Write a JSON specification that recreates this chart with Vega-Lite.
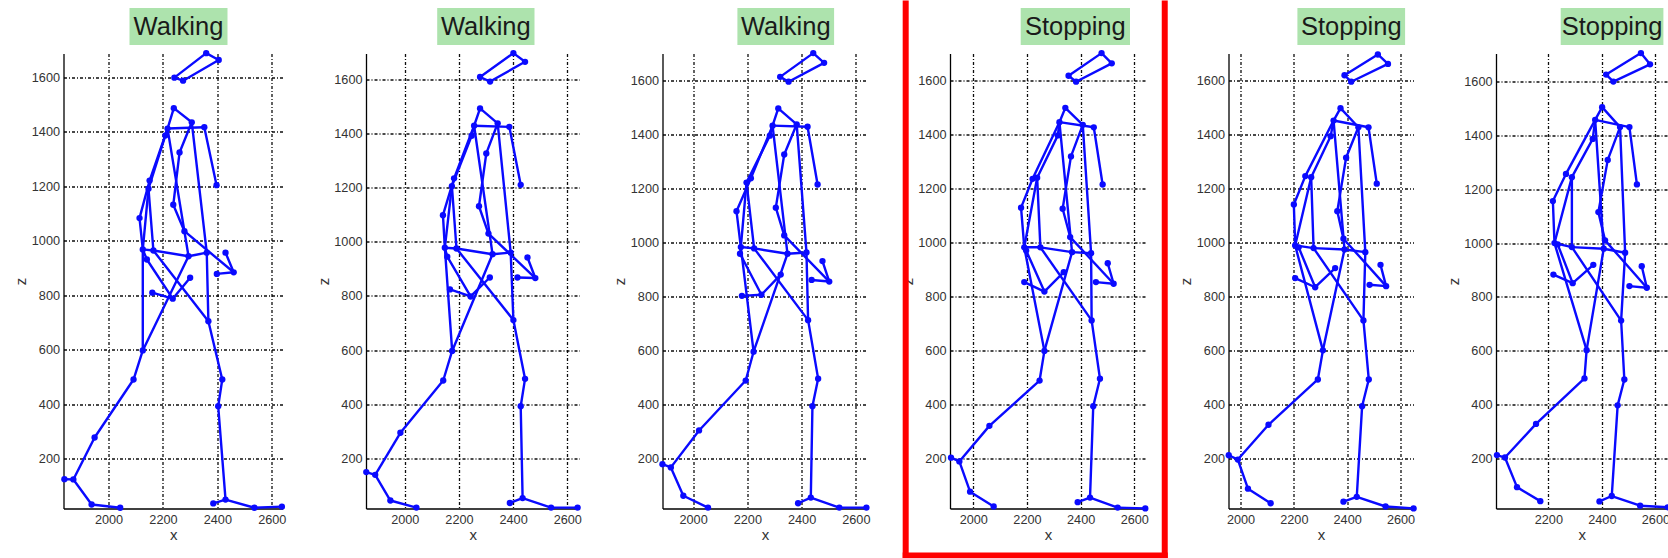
{
  "$schema": "https://vega.github.io/schema/vega-lite/v6.json",
  "background": "white",
  "padding": {"left": 13.5, "top": 0, "right": 0, "bottom": 0},
  "autosize": {"type": "pad"},
  "config": {
    "view": {"stroke": null},
    "font": "Liberation Sans",
    "numberFormat": "d",
    "axis": {
      "domainColor": "#000000", "domainWidth": 1.3,
      "ticks": false, "tickSize": 0,
      "grid": true, "gridColor": "#000000", "gridWidth": 1.3, "gridDash": [3, 2, 1, 2], "gridOpacity": 0.95,
      "labelFont": "Liberation Sans", "labelFontSize": 12.7, "labelColor": "#333333", "labelPadding": 4,
      "titleFont": "Liberation Sans", "titleFontSize": 15, "titleFontWeight": "normal", "titleColor": "#333333"
    },
    "axisX": {"labelPadding": 5, "titlePadding": 1},
    "axisY": {"titleX": -43, "titleY": 227.5, "titleBaseline": "middle"}
  },
  "datasets": {
    "bones": [
      {"a": "hd1", "b": "hd2"}, {"a": "hd2", "b": "hd3"}, {"a": "hd3", "b": "hd4"}, {"a": "hd4", "b": "hd1"},
      {"a": "neck", "b": "shL"}, {"a": "neck", "b": "shM"}, {"a": "shL", "b": "shR"}, {"a": "shL", "b": "hipC"},
      {"a": "shL", "b": "elA"}, {"a": "shL", "b": "shD"}, {"a": "shD", "b": "elB"},
      {"a": "shM", "b": "fa1"}, {"a": "fa1", "b": "fa2"}, {"a": "fa2", "b": "fa3"}, {"a": "fa3", "b": "fwr"},
      {"a": "fwr", "b": "ftip"}, {"a": "fwr", "b": "fthm"},
      {"a": "shR", "b": "rhand"}, {"a": "shM", "b": "hipR"},
      {"a": "elA", "b": "wrA"}, {"a": "wrA", "b": "hipL"}, {"a": "elB", "b": "hipL2"}, {"a": "elB", "b": "hipL"},
      {"a": "hipL", "b": "hipL2"}, {"a": "hipL2", "b": "hipC"}, {"a": "hipC", "b": "hipR"},
      {"a": "hipL", "b": "bwr"}, {"a": "bwr", "b": "bhand"}, {"a": "bhand", "b": "btip"}, {"a": "bhand", "b": "bthm"},
      {"a": "hipL", "b": "lth"}, {"a": "hipC", "b": "lth"}, {"a": "hipR", "b": "rth"}, {"a": "hipL2", "b": "rth"},
      {"a": "lth", "b": "lkn"}, {"a": "lkn", "b": "lsh"}, {"a": "lsh", "b": "lan"}, {"a": "lan", "b": "lhe"},
      {"a": "lan", "b": "lmt"}, {"a": "lmt", "b": "lto"},
      {"a": "rth", "b": "rkn"}, {"a": "rkn", "b": "rsh"}, {"a": "rsh", "b": "ran"}, {"a": "ran", "b": "rhe"},
      {"a": "ran", "b": "rmt"}, {"a": "rmt", "b": "rto"}
    ],
    "p1": [
      {"j": "hd1", "x": 2242, "z": 1599}, {"j": "hd2", "x": 2359, "z": 1689}, {"j": "hd3", "x": 2405, "z": 1664}, {"j": "hd4", "x": 2274, "z": 1588},
      {"j": "neck", "x": 2240, "z": 1487}, {"j": "shL", "x": 2217, "z": 1412}, {"j": "shD", "x": 2209, "z": 1387},
      {"j": "shM", "x": 2306, "z": 1435}, {"j": "shR", "x": 2352, "z": 1417},
      {"j": "fa1", "x": 2261, "z": 1324}, {"j": "rhand", "x": 2397, "z": 1204},
      {"j": "elA", "x": 2151, "z": 1221}, {"j": "elB", "x": 2147, "z": 1191}, {"j": "wrA", "x": 2114, "z": 1083},
      {"j": "fa2", "x": 2238, "z": 1132}, {"j": "fa3", "x": 2279, "z": 1035},
      {"j": "hipL", "x": 2126, "z": 968}, {"j": "hipL2", "x": 2165, "z": 964}, {"j": "hipC", "x": 2294, "z": 943}, {"j": "hipR", "x": 2361, "z": 956},
      {"j": "ftip", "x": 2430, "z": 956}, {"j": "fwr", "x": 2460, "z": 884}, {"j": "fthm", "x": 2398, "z": 878},
      {"j": "bwr", "x": 2141, "z": 931}, {"j": "bthm", "x": 2300, "z": 864}, {"j": "btip", "x": 2161, "z": 809}, {"j": "bhand", "x": 2236, "z": 787},
      {"j": "rth", "x": 2367, "z": 704}, {"j": "lth", "x": 2126, "z": 597},
      {"j": "lkn", "x": 2092, "z": 490}, {"j": "lsh", "x": 1949, "z": 277}, {"j": "lan", "x": 1871, "z": 123}, {"j": "lhe", "x": 1838, "z": 124},
      {"j": "lmt", "x": 1938, "z": 31}, {"j": "lto", "x": 2043, "z": 19},
      {"j": "rkn", "x": 2418, "z": 490}, {"j": "rsh", "x": 2403, "z": 392}, {"j": "ran", "x": 2430, "z": 49}, {"j": "rhe", "x": 2385, "z": 35},
      {"j": "rmt", "x": 2536, "z": 19}, {"j": "rto", "x": 2637, "z": 23}
    ],
    "p2": [
      {"j": "hd1", "x": 2278, "z": 1608}, {"j": "hd2", "x": 2401, "z": 1696}, {"j": "hd3", "x": 2444, "z": 1664}, {"j": "hd4", "x": 2315, "z": 1591},
      {"j": "neck", "x": 2278, "z": 1492}, {"j": "shL", "x": 2256, "z": 1428}, {"j": "shD", "x": 2247, "z": 1391},
      {"j": "shM", "x": 2343, "z": 1437}, {"j": "shR", "x": 2386, "z": 1424},
      {"j": "fa1", "x": 2301, "z": 1326}, {"j": "rhand", "x": 2428, "z": 1210},
      {"j": "elA", "x": 2182, "z": 1234}, {"j": "elB", "x": 2174, "z": 1205}, {"j": "wrA", "x": 2141, "z": 1098},
      {"j": "fa2", "x": 2274, "z": 1131}, {"j": "fa3", "x": 2309, "z": 1030},
      {"j": "hipL", "x": 2148, "z": 978}, {"j": "hipL2", "x": 2191, "z": 975}, {"j": "hipC", "x": 2324, "z": 954}, {"j": "hipR", "x": 2391, "z": 960},
      {"j": "ftip", "x": 2453, "z": 942}, {"j": "fwr", "x": 2482, "z": 866}, {"j": "fthm", "x": 2416, "z": 868},
      {"j": "bwr", "x": 2157, "z": 945}, {"j": "bthm", "x": 2314, "z": 868}, {"j": "btip", "x": 2167, "z": 824}, {"j": "bhand", "x": 2243, "z": 798},
      {"j": "rth", "x": 2401, "z": 711}, {"j": "lth", "x": 2175, "z": 597},
      {"j": "lkn", "x": 2142, "z": 488}, {"j": "lsh", "x": 1984, "z": 295}, {"j": "lan", "x": 1891, "z": 140}, {"j": "lhe", "x": 1858, "z": 150},
      {"j": "lmt", "x": 1947, "z": 45}, {"j": "lto", "x": 2043, "z": 19},
      {"j": "rkn", "x": 2444, "z": 494}, {"j": "rsh", "x": 2428, "z": 393}, {"j": "ran", "x": 2435, "z": 54}, {"j": "rhe", "x": 2388, "z": 36},
      {"j": "rmt", "x": 2540, "z": 19}, {"j": "rto", "x": 2638, "z": 19}
    ],
    "p3": [
      {"j": "hd1", "x": 2321, "z": 1615}, {"j": "hd2", "x": 2443, "z": 1703}, {"j": "hd3", "x": 2483, "z": 1667}, {"j": "hd4", "x": 2352, "z": 1597},
      {"j": "neck", "x": 2314, "z": 1498}, {"j": "shL", "x": 2293, "z": 1434}, {"j": "shD", "x": 2283, "z": 1397},
      {"j": "shM", "x": 2382, "z": 1439}, {"j": "shR", "x": 2422, "z": 1430},
      {"j": "fa1", "x": 2336, "z": 1327}, {"j": "rhand", "x": 2459, "z": 1216},
      {"j": "elA", "x": 2213, "z": 1239}, {"j": "elB", "x": 2197, "z": 1223}, {"j": "wrA", "x": 2160, "z": 1117},
      {"j": "fa2", "x": 2305, "z": 1130}, {"j": "fa3", "x": 2336, "z": 1027},
      {"j": "hipL", "x": 2176, "z": 984}, {"j": "hipL2", "x": 2225, "z": 979}, {"j": "hipC", "x": 2348, "z": 959}, {"j": "hipR", "x": 2418, "z": 964},
      {"j": "ftip", "x": 2477, "z": 932}, {"j": "fwr", "x": 2502, "z": 856}, {"j": "fthm", "x": 2437, "z": 862},
      {"j": "bwr", "x": 2173, "z": 959}, {"j": "bthm", "x": 2323, "z": 882}, {"j": "btip", "x": 2180, "z": 803}, {"j": "bhand", "x": 2252, "z": 807},
      {"j": "rth", "x": 2424, "z": 713}, {"j": "lth", "x": 2223, "z": 596},
      {"j": "lkn", "x": 2194, "z": 489}, {"j": "lsh", "x": 2022, "z": 304}, {"j": "lan", "x": 1918, "z": 167}, {"j": "lhe", "x": 1887, "z": 179},
      {"j": "lmt", "x": 1964, "z": 62}, {"j": "lto", "x": 2055, "z": 18},
      {"j": "rkn", "x": 2461, "z": 496}, {"j": "rsh", "x": 2440, "z": 394}, {"j": "ran", "x": 2434, "z": 55}, {"j": "rhe", "x": 2387, "z": 34},
      {"j": "rmt", "x": 2539, "z": 18}, {"j": "rto", "x": 2639, "z": 18}
    ],
    "p4": [
      {"j": "hd1", "x": 2355, "z": 1619}, {"j": "hd2", "x": 2478, "z": 1703}, {"j": "hd3", "x": 2516, "z": 1665}, {"j": "hd4", "x": 2383, "z": 1597},
      {"j": "neck", "x": 2343, "z": 1500}, {"j": "shL", "x": 2321, "z": 1447}, {"j": "shD", "x": 2315, "z": 1398},
      {"j": "shM", "x": 2408, "z": 1437}, {"j": "shR", "x": 2449, "z": 1428},
      {"j": "fa1", "x": 2364, "z": 1320}, {"j": "rhand", "x": 2482, "z": 1216},
      {"j": "elA", "x": 2221, "z": 1237}, {"j": "elB", "x": 2238, "z": 1241}, {"j": "wrA", "x": 2178, "z": 1130},
      {"j": "fa2", "x": 2333, "z": 1126}, {"j": "fa3", "x": 2361, "z": 1021},
      {"j": "hipL", "x": 2190, "z": 983}, {"j": "hipL2", "x": 2250, "z": 983}, {"j": "hipC", "x": 2368, "z": 965}, {"j": "hipR", "x": 2439, "z": 961},
      {"j": "ftip", "x": 2501, "z": 924}, {"j": "fwr", "x": 2523, "z": 848}, {"j": "fthm", "x": 2457, "z": 854},
      {"j": "bwr", "x": 2197, "z": 971}, {"j": "bthm", "x": 2337, "z": 891}, {"j": "btip", "x": 2190, "z": 854}, {"j": "bhand", "x": 2265, "z": 819},
      {"j": "rth", "x": 2441, "z": 712}, {"j": "lth", "x": 2265, "z": 599},
      {"j": "lkn", "x": 2247, "z": 489}, {"j": "lsh", "x": 2060, "z": 321}, {"j": "lan", "x": 1948, "z": 189}, {"j": "lhe", "x": 1917, "z": 203},
      {"j": "lmt", "x": 1988, "z": 77}, {"j": "lto", "x": 2076, "z": 22},
      {"j": "rkn", "x": 2472, "z": 496}, {"j": "rsh", "x": 2447, "z": 394}, {"j": "ran", "x": 2435, "z": 55}, {"j": "rhe", "x": 2389, "z": 38},
      {"j": "rmt", "x": 2538, "z": 18}, {"j": "rto", "x": 2641, "z": 15}
    ],
    "p5": [
      {"j": "hd1", "x": 2390, "z": 1621}, {"j": "hd2", "x": 2515, "z": 1698}, {"j": "hd3", "x": 2553, "z": 1663}, {"j": "hd4", "x": 2415, "z": 1597},
      {"j": "neck", "x": 2375, "z": 1499}, {"j": "shL", "x": 2349, "z": 1453}, {"j": "shD", "x": 2338, "z": 1395},
      {"j": "shM", "x": 2442, "z": 1428}, {"j": "shR", "x": 2480, "z": 1428},
      {"j": "fa1", "x": 2396, "z": 1315}, {"j": "rhand", "x": 2511, "z": 1219},
      {"j": "elA", "x": 2243, "z": 1247}, {"j": "elB", "x": 2265, "z": 1243}, {"j": "wrA", "x": 2200, "z": 1142},
      {"j": "fa2", "x": 2363, "z": 1117}, {"j": "fa3", "x": 2386, "z": 1015},
      {"j": "hipL", "x": 2205, "z": 990}, {"j": "hipL2", "x": 2274, "z": 980}, {"j": "hipC", "x": 2390, "z": 975}, {"j": "hipR", "x": 2468, "z": 965},
      {"j": "ftip", "x": 2525, "z": 918}, {"j": "fwr", "x": 2546, "z": 839}, {"j": "fthm", "x": 2484, "z": 844},
      {"j": "bwr", "x": 2218, "z": 983}, {"j": "bthm", "x": 2355, "z": 906}, {"j": "btip", "x": 2205, "z": 869}, {"j": "bhand", "x": 2280, "z": 835},
      {"j": "rth", "x": 2461, "z": 712}, {"j": "lth", "x": 2309, "z": 601},
      {"j": "lkn", "x": 2290, "z": 493}, {"j": "lsh", "x": 2105, "z": 325}, {"j": "lan", "x": 1990, "z": 196}, {"j": "lhe", "x": 1956, "z": 212},
      {"j": "lmt", "x": 2028, "z": 88}, {"j": "lto", "x": 2113, "z": 34},
      {"j": "rkn", "x": 2481, "z": 493}, {"j": "rsh", "x": 2456, "z": 394}, {"j": "ran", "x": 2436, "z": 58}, {"j": "rhe", "x": 2386, "z": 40},
      {"j": "rmt", "x": 2544, "z": 22}, {"j": "rto", "x": 2649, "z": 15}
    ],
    "p6": [
      {"j": "hd1", "x": 2416, "z": 1626}, {"j": "hd2", "x": 2546, "z": 1706}, {"j": "hd3", "x": 2580, "z": 1664}, {"j": "hd4", "x": 2443, "z": 1600},
      {"j": "neck", "x": 2401, "z": 1505}, {"j": "shL", "x": 2375, "z": 1458}, {"j": "shD", "x": 2366, "z": 1387},
      {"j": "shM", "x": 2468, "z": 1431}, {"j": "shR", "x": 2503, "z": 1431},
      {"j": "fa1", "x": 2422, "z": 1309}, {"j": "rhand", "x": 2531, "z": 1218},
      {"j": "elA", "x": 2266, "z": 1257}, {"j": "elB", "x": 2288, "z": 1245}, {"j": "wrA", "x": 2217, "z": 1156},
      {"j": "fa2", "x": 2387, "z": 1115}, {"j": "fa3", "x": 2412, "z": 1010},
      {"j": "hipL", "x": 2223, "z": 1000}, {"j": "hipL2", "x": 2288, "z": 985}, {"j": "hipC", "x": 2407, "z": 979}, {"j": "hipR", "x": 2487, "z": 964},
      {"j": "ftip", "x": 2549, "z": 914}, {"j": "fwr", "x": 2568, "z": 834}, {"j": "fthm", "x": 2503, "z": 840},
      {"j": "bwr", "x": 2235, "z": 995}, {"j": "bthm", "x": 2368, "z": 919}, {"j": "btip", "x": 2219, "z": 883}, {"j": "bhand", "x": 2291, "z": 851},
      {"j": "rth", "x": 2472, "z": 712}, {"j": "lth", "x": 2343, "z": 602},
      {"j": "lkn", "x": 2335, "z": 497}, {"j": "lsh", "x": 2154, "z": 328}, {"j": "lan", "x": 2038, "z": 203}, {"j": "lhe", "x": 2008, "z": 212},
      {"j": "lmt", "x": 2083, "z": 93}, {"j": "lto", "x": 2170, "z": 41},
      {"j": "rkn", "x": 2484, "z": 493}, {"j": "rsh", "x": 2459, "z": 397}, {"j": "ran", "x": 2437, "z": 60}, {"j": "rhe", "x": 2391, "z": 40},
      {"j": "rmt", "x": 2543, "z": 24}, {"j": "rto", "x": 2646, "z": 18}
    ]
  },
  "columns": 6,
  "align": "each",
  "bounds": "flush",
  "spacing": {"row": 8.5, "column": 82.5},
  "concat": [
    {
      "width": 164, "height": 37,
      "data": {"values": [{"label": "Walking"}]},
      "layer": [
        {"mark": {"type": "bar", "color": "#ade3ad"},
         "encoding": {"x": {"field": "label", "type": "nominal", "axis": null, "scale": {"paddingInner": 0, "paddingOuter": 0.3367, "align": 1}}}},
        {"mark": {"type": "text", "fontSize": 25.5, "font": "Liberation Sans", "color": "#1a1a1a"},
         "encoding": {"x": {"field": "label", "type": "nominal"}, "text": {"field": "label"}}}
      ]
    },
    {
      "width": 168.5, "height": 37,
      "data": {"values": [{"label": "Walking"}]},
      "layer": [
        {"mark": {"type": "bar", "color": "#ade3ad"},
         "encoding": {"x": {"field": "label", "type": "nominal", "axis": null, "scale": {"paddingInner": 0, "paddingOuter": 0.3659, "align": 1}}}},
        {"mark": {"type": "text", "fontSize": 25.5, "font": "Liberation Sans", "color": "#1a1a1a"},
         "encoding": {"x": {"field": "label", "type": "nominal"}, "text": {"field": "label"}}}
      ]
    },
    {
      "width": 171.6, "height": 37,
      "data": {"values": [{"label": "Walking"}]},
      "layer": [
        {"mark": {"type": "bar", "color": "#ade3ad"},
         "encoding": {"x": {"field": "label", "type": "nominal", "axis": null, "scale": {"paddingInner": 0, "paddingOuter": 0.3873, "align": 1}}}},
        {"mark": {"type": "text", "fontSize": 25.5, "font": "Liberation Sans", "color": "#1a1a1a"},
         "encoding": {"x": {"field": "label", "type": "nominal"}, "text": {"field": "label"}}}
      ]
    },
    {
      "width": 180, "height": 37,
      "data": {"values": [{"label": "Stopping"}]},
      "layer": [
        {"mark": {"type": "bar", "color": "#ade3ad"},
         "encoding": {"x": {"field": "label", "type": "nominal", "axis": null, "scale": {"paddingInner": 0, "paddingOuter": 0.3234, "align": 1}}}},
        {"mark": {"type": "text", "fontSize": 25.5, "font": "Liberation Sans", "color": "#1a1a1a"},
         "encoding": {"x": {"field": "label", "type": "nominal"}, "text": {"field": "label"}}}
      ]
    },
    {
      "width": 176.6, "height": 37,
      "data": {"values": [{"label": "Stopping"}]},
      "layer": [
        {"mark": {"type": "bar", "color": "#ade3ad"},
         "encoding": {"x": {"field": "label", "type": "nominal", "axis": null, "scale": {"paddingInner": 0, "paddingOuter": 0.3199, "align": 1}}}},
        {"mark": {"type": "text", "fontSize": 25.5, "font": "Liberation Sans", "color": "#1a1a1a"},
         "encoding": {"x": {"field": "label", "type": "nominal"}, "text": {"field": "label"}}}
      ]
    },
    {
      "width": 167.4, "height": 37,
      "data": {"values": [{"label": "Stopping"}]},
      "layer": [
        {"mark": {"type": "bar", "color": "#ade3ad"},
         "encoding": {"x": {"field": "label", "type": "nominal", "axis": null, "scale": {"paddingInner": 0, "paddingOuter": 0.315, "align": 1}}}},
        {"mark": {"type": "text", "fontSize": 25.5, "font": "Liberation Sans", "color": "#1a1a1a"},
         "encoding": {"x": {"field": "label", "type": "nominal"}, "text": {"field": "label"}}}
      ]
    },
    {
      "width": 219.3, "height": 455,
      "layer": [
        {"data": {"name": "bones"},
         "transform": [
           {"lookup": "a", "from": {"data": {"name": "p1"}, "key": "j", "fields": ["x", "z"]}, "as": ["xa", "za"]},
           {"lookup": "b", "from": {"data": {"name": "p1"}, "key": "j", "fields": ["x", "z"]}, "as": ["xb", "zb"]}
         ],
         "mark": {"type": "rule", "color": "#0a0aff", "strokeWidth": 2.4, "strokeCap": "round"},
         "encoding": {
           "x": {"field": "xa", "type": "quantitative", "scale": {"domain": [1834.7, 2640.4], "nice": false, "zero": false}, "axis": {"values": [2000, 2200, 2400, 2600], "title": "x", "format": "d"}},
           "y": {"field": "za", "type": "quantitative", "scale": {"domain": [16.2, 1687.8], "nice": false, "zero": false}, "axis": {"values": [200, 400, 600, 800, 1000, 1200, 1400, 1600], "title": "z", "format": "d"}},
           "x2": {"field": "xb"}, "y2": {"field": "zb"}
         }},
        {"data": {"name": "p1"},
         "mark": {"type": "circle", "size": 40, "color": "#0a0aff", "opacity": 1},
         "encoding": {"x": {"field": "x", "type": "quantitative"}, "y": {"field": "z", "type": "quantitative"}}}
      ]
    },
    {
      "width": 213.5, "height": 455,
      "layer": [
        {"data": {"name": "bones"},
         "transform": [
           {"lookup": "a", "from": {"data": {"name": "p2"}, "key": "j", "fields": ["x", "z"]}, "as": ["xa", "za"]},
           {"lookup": "b", "from": {"data": {"name": "p2"}, "key": "j", "fields": ["x", "z"]}, "as": ["xb", "zb"]}
         ],
         "mark": {"type": "rule", "color": "#0a0aff", "strokeWidth": 2.4, "strokeCap": "round"},
         "encoding": {
           "x": {"field": "xa", "type": "quantitative", "scale": {"domain": [1857, 2645], "nice": false, "zero": false}, "axis": {"values": [2000, 2200, 2400, 2600], "title": "x", "format": "d"}},
           "y": {"field": "za", "type": "quantitative", "scale": {"domain": [15.6, 1694.6], "nice": false, "zero": false}, "axis": {"values": [200, 400, 600, 800, 1000, 1200, 1400, 1600], "title": "z", "format": "d"}},
           "x2": {"field": "xb"}, "y2": {"field": "zb"}
         }},
        {"data": {"name": "p2"},
         "mark": {"type": "circle", "size": 40, "color": "#0a0aff", "opacity": 1},
         "encoding": {"x": {"field": "x", "type": "quantitative"}, "y": {"field": "z", "type": "quantitative"}}}
      ]
    },
    {
      "width": 205, "height": 455,
      "layer": [
        {"data": {"name": "bones"},
         "transform": [
           {"lookup": "a", "from": {"data": {"name": "p3"}, "key": "j", "fields": ["x", "z"]}, "as": ["xa", "za"]},
           {"lookup": "b", "from": {"data": {"name": "p3"}, "key": "j", "fields": ["x", "z"]}, "as": ["xb", "zb"]}
         ],
         "mark": {"type": "rule", "color": "#0a0aff", "strokeWidth": 2.4, "strokeCap": "round"},
         "encoding": {
           "x": {"field": "xa", "type": "quantitative", "scale": {"domain": [1887.2, 2643], "nice": false, "zero": false}, "axis": {"values": [2000, 2200, 2400, 2600], "title": "x", "format": "d"}},
           "y": {"field": "za", "type": "quantitative", "scale": {"domain": [14.6, 1701.6], "nice": false, "zero": false}, "axis": {"values": [200, 400, 600, 800, 1000, 1200, 1400, 1600], "title": "z", "format": "d"}},
           "x2": {"field": "xb"}, "y2": {"field": "zb"}
         }},
        {"data": {"name": "p3"},
         "mark": {"type": "circle", "size": 40, "color": "#0a0aff", "opacity": 1},
         "encoding": {"x": {"field": "x", "type": "quantitative"}, "y": {"field": "z", "type": "quantitative"}}}
      ]
    },
    {
      "width": 196, "height": 455,
      "layer": [
        {"data": {"name": "bones"},
         "transform": [
           {"lookup": "a", "from": {"data": {"name": "p4"}, "key": "j", "fields": ["x", "z"]}, "as": ["xa", "za"]},
           {"lookup": "b", "from": {"data": {"name": "p4"}, "key": "j", "fields": ["x", "z"]}, "as": ["xb", "zb"]}
         ],
         "mark": {"type": "rule", "color": "#0a0aff", "strokeWidth": 2.4, "strokeCap": "round"},
         "encoding": {
           "x": {"field": "xa", "type": "quantitative", "scale": {"domain": [1913.2, 2643.6], "nice": false, "zero": false}, "axis": {"values": [2000, 2200, 2400, 2600], "title": "x", "format": "d"}},
           "y": {"field": "za", "type": "quantitative", "scale": {"domain": [14.6, 1701.6], "nice": false, "zero": false}, "axis": {"values": [200, 400, 600, 800, 1000, 1200, 1400, 1600], "title": "z", "format": "d"}},
           "x2": {"field": "xb"}, "y2": {"field": "zb"}
         }},
        {"data": {"name": "p4"},
         "mark": {"type": "circle", "size": 40, "color": "#0a0aff", "opacity": 1},
         "encoding": {"x": {"field": "x", "type": "quantitative"}, "y": {"field": "z", "type": "quantitative"}}},
        {"data": {"values": [{}]},
         "mark": {"type": "rect", "color": "#ff0000"},
         "encoding": {"x": {"datum": 1736.9}, "x2": {"datum": 1759.3}, "y": {"datum": 1898.1}, "y2": {"datum": -170.8}}},
        {"data": {"values": [{}]},
         "mark": {"type": "rect", "color": "#ff0000"},
         "encoding": {"x": {"datum": 2702.3}, "x2": {"datum": 2724.6}, "y": {"datum": 1898.1}, "y2": {"datum": -170.8}}},
        {"data": {"values": [{}]},
         "mark": {"type": "rect", "color": "#ff0000"},
         "encoding": {"x": {"datum": 1736.9}, "x2": {"datum": 2724.6}, "y": {"datum": -148.6}, "y2": {"datum": -170.8}}}
      ]
    },
    {
      "width": 185, "height": 455,
      "layer": [
        {"data": {"name": "bones"},
         "transform": [
           {"lookup": "a", "from": {"data": {"name": "p5"}, "key": "j", "fields": ["x", "z"]}, "as": ["xa", "za"]},
           {"lookup": "b", "from": {"data": {"name": "p5"}, "key": "j", "fields": ["x", "z"]}, "as": ["xb", "zb"]}
         ],
         "mark": {"type": "rule", "color": "#0a0aff", "strokeWidth": 2.4, "strokeCap": "round"},
         "encoding": {
           "x": {"field": "xa", "type": "quantitative", "scale": {"domain": [1955, 2648.7], "nice": false, "zero": false}, "axis": {"values": [2000, 2200, 2400, 2600], "title": "x", "format": "d"}},
           "y": {"field": "za", "type": "quantitative", "scale": {"domain": [14.6, 1701.6], "nice": false, "zero": false}, "axis": {"values": [200, 400, 600, 800, 1000, 1200, 1400, 1600], "title": "z", "format": "d"}},
           "x2": {"field": "xb"}, "y2": {"field": "zb"}
         }},
        {"data": {"name": "p5"},
         "mark": {"type": "circle", "size": 40, "color": "#0a0aff", "opacity": 1},
         "encoding": {"x": {"field": "x", "type": "quantitative"}, "y": {"field": "z", "type": "quantitative"}}}
      ]
    },
    {
      "width": 171.7, "height": 455,
      "layer": [
        {"data": {"name": "bones"},
         "transform": [
           {"lookup": "a", "from": {"data": {"name": "p6"}, "key": "j", "fields": ["x", "z"]}, "as": ["xa", "za"]},
           {"lookup": "b", "from": {"data": {"name": "p6"}, "key": "j", "fields": ["x", "z"]}, "as": ["xb", "zb"]}
         ],
         "mark": {"type": "rule", "color": "#0a0aff", "strokeWidth": 2.4, "strokeCap": "round"},
         "encoding": {
           "x": {"field": "xa", "type": "quantitative", "scale": {"domain": [2004.5, 2646], "nice": false, "zero": false}, "axis": {"values": [2200, 2400, 2600], "title": "x", "format": "d"}},
           "y": {"field": "za", "type": "quantitative", "scale": {"domain": [13.6, 1704.4], "nice": false, "zero": false}, "axis": {"values": [200, 400, 600, 800, 1000, 1200, 1400, 1600], "title": "z", "format": "d"}},
           "x2": {"field": "xb"}, "y2": {"field": "zb"}
         }},
        {"data": {"name": "p6"},
         "mark": {"type": "circle", "size": 40, "color": "#0a0aff", "opacity": 1},
         "encoding": {"x": {"field": "x", "type": "quantitative"}, "y": {"field": "z", "type": "quantitative"}}}
      ]
    }
  ]
}
